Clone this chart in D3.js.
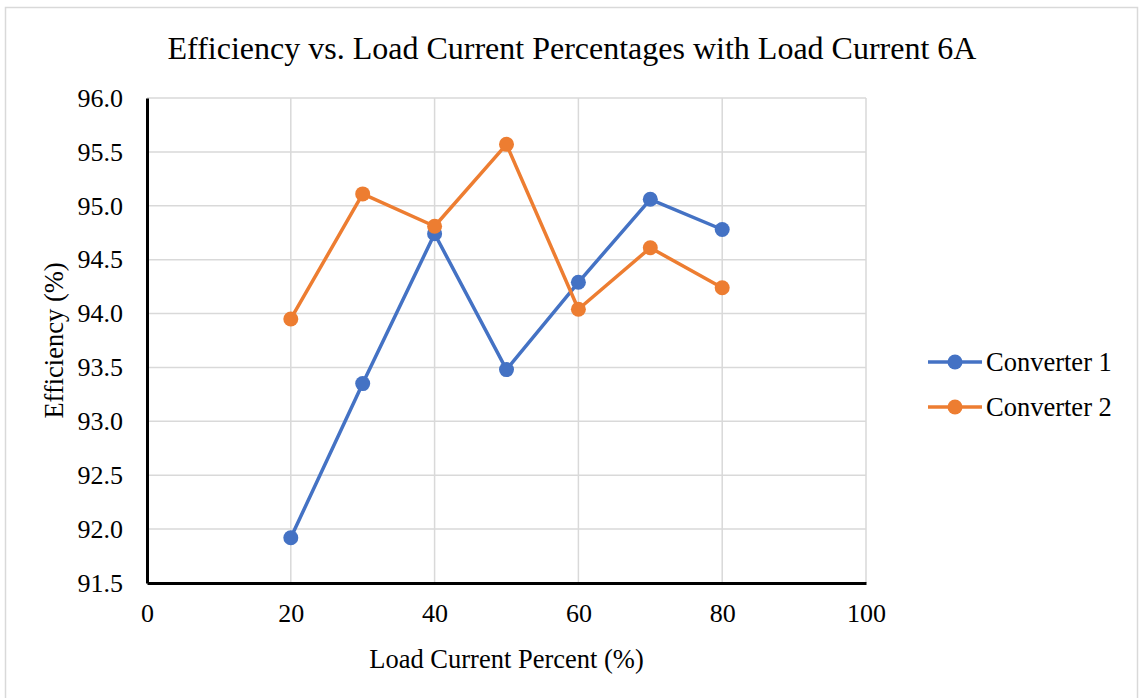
<!DOCTYPE html>
<html>
<head>
<meta charset="utf-8">
<script src="https://cdn.jsdelivr.net/npm/d3@7"></script>
<style>
  html, body { margin: 0; padding: 0; background: #fff; }
  svg { display: block; }
  text { font-family: "Liberation Serif", "Times New Roman", serif; fill: #000; }
</style>
</head>
<body>
<svg id="chart" width="1139" height="698"></svg>
<script>
// Load current percentages (x) and measured efficiencies (%) per converter
const loadPercent = [20, 30, 40, 50, 60, 70, 80];
const converter1 = [91.92, 93.35, 94.74, 93.48, 94.29, 95.06, 94.78];
const converter2 = [93.95, 95.11, 94.81, 95.57, 94.04, 94.61, 94.24];
const xTicks = [0, 20, 40, 60, 80, 100];
const yTicks = [91.5, 92.0, 92.5, 93.0, 93.5, 94.0, 94.5, 95.0, 95.5, 96.0];
const seriesNames = ["Converter 1", "Converter 2"];
const seriesColors = ["#4472C4", "#ED7D31"];

const series = [converter1, converter2].map((vals, i) => ({
  name: seriesNames[i],
  color: seriesColors[i],
  points: loadPercent.map((x, j) => ({ x, y: vals[j] }))
}));

const plot = { left: 147, right: 866, top: 98, bottom: 583 };

const svg = d3.select("#chart");

// Outer chart frame
svg.append("rect")
  .attr("x", 5.5).attr("y", 7.5)
  .attr("width", 1132).attr("height", 700)
  .attr("fill", "#fff").attr("stroke", "#d9d9d9").attr("stroke-width", 1.5);

const x = d3.scaleLinear().domain([0, 100]).range([plot.left, plot.right]);
const y = d3.scaleLinear().domain([91.5, 96.0]).range([plot.bottom, plot.top]);

// Gridlines
const grid = svg.append("g");
grid.selectAll("line.h").data(yTicks.slice(1)).join("line")
  .attr("x1", plot.left).attr("x2", plot.right)
  .attr("y1", d => y(d)).attr("y2", d => y(d))
  .attr("stroke", "#d9d9d9").attr("stroke-width", 1.5);
grid.selectAll("line.v").data(xTicks.slice(1)).join("line")
  .attr("y1", plot.top).attr("y2", plot.bottom)
  .attr("x1", d => x(d)).attr("x2", d => x(d))
  .attr("stroke", "#d9d9d9").attr("stroke-width", 1.5);

// Axes
const xAxis = d3.axisBottom(x).tickValues(xTicks).tickSize(0).tickPadding(21).tickFormat(d3.format("d"));
const yAxis = d3.axisLeft(y).tickValues(yTicks).tickSize(0).tickPadding(24).tickFormat(d3.format(".1f"));

const gx = svg.append("g").attr("transform", `translate(0,${plot.bottom})`).call(xAxis);
const gy = svg.append("g").attr("transform", `translate(${plot.left},0)`).call(yAxis);
[gx, gy].forEach(g => {
  g.select(".domain").attr("stroke", "#000").attr("stroke-width", 3);
  g.selectAll("text").attr("font-size", 26).attr("font-family", "Liberation Serif, Times New Roman, serif").attr("fill", "#000");
});

// Series lines and markers
const line = d3.line().x(d => x(d.x)).y(d => y(d.y));
series.forEach(s => {
  svg.append("path").datum(s.points)
    .attr("d", line).attr("fill", "none")
    .attr("stroke", s.color).attr("stroke-width", 3.5)
    .attr("stroke-linejoin", "round");
  svg.append("g").selectAll("circle").data(s.points).join("circle")
    .attr("cx", d => x(d.x)).attr("cy", d => y(d.y)).attr("r", 7.5)
    .attr("fill", s.color);
});

// Titles
svg.append("text").attr("x", 572).attr("y", 59).attr("text-anchor", "middle")
  .attr("font-size", 32).text("Efficiency vs. Load Current Percentages with Load Current 6A");
svg.append("text").attr("x", (plot.left + plot.right) / 2).attr("y", 668).attr("text-anchor", "middle")
  .attr("font-size", 26.5).text("Load Current Percent (%)");
svg.append("text").attr("transform", `translate(63,${(plot.top + plot.bottom) / 2}) rotate(-90)`)
  .attr("text-anchor", "middle").attr("font-size", 26.5).text("Efficiency (%)");

// Legend
const legend = svg.append("g").selectAll("g").data(series).join("g")
  .attr("transform", (d, i) => `translate(928,${362 + i * 45})`);
legend.append("line").attr("x1", 0).attr("x2", 54)
  .attr("stroke", d => d.color).attr("stroke-width", 3.5);
legend.append("circle").attr("cx", 27).attr("r", 7.5).attr("fill", d => d.color);
legend.append("text").attr("x", 58).attr("y", 9).attr("font-size", 26.5).text(d => d.name);
</script>
</body>
</html>
